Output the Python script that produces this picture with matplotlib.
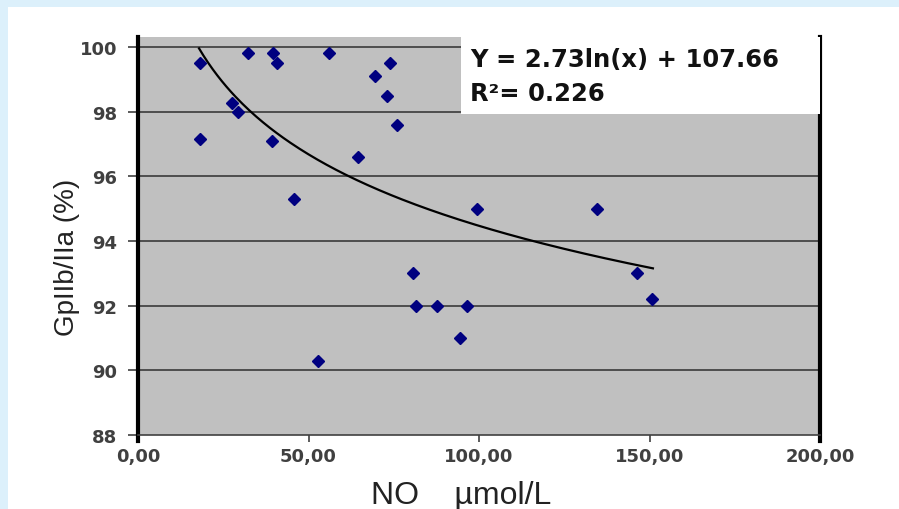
import numpy as np
import matplotlib.pyplot as plt
from matplotlib.patches import Rectangle

# NO (umol/L) vs GpIIb/IIa (%)
no_values = [18.2, 18.2, 27.6, 29.3, 32.3, 39.6, 40.8, 39.3, 45.7, 56.0,
             64.5, 69.5, 73.9, 73.0, 75.9, 52.8, 80.6, 81.5, 87.7, 96.5,
             94.4, 99.4, 134.5, 146.3, 150.7]
gp_values = [99.5, 97.15, 98.27, 98.0, 99.8, 99.8, 99.5, 97.1, 95.3, 99.8,
             96.6, 99.1, 99.5, 98.5, 97.6, 90.3, 93.0, 92.0, 92.0, 92.0,
             91.0, 95.0, 95.0, 93.0, 92.2]

# logarithmic trend line as drawn in the picture
trend_slope = -3.19
trend_intercept = 109.16
trend_x_range = [17.9, 151.0]

x_ticks = [0, 50, 100, 150, 200]
x_tick_labels = ["0,00", "50,00", "100,00", "150,00", "200,00"]
y_ticks = [88, 90, 92, 94, 96, 98, 100]
equation_text = "Y = 2.73ln(x) + 107.66"
r2_text = "R\u00b2= 0.226"

fig = plt.figure(figsize=(8.99, 5.10), dpi=100)
fig.patch.set_facecolor("#dcf0fb")
fig.patches.append(Rectangle((8 / 899, 0), 1, 1 - 8 / 510, transform=fig.transFigure,
                             facecolor="white", edgecolor="none", zorder=-10))

ax = fig.add_axes([138 / 899, 1 - 436 / 510, (820 - 138) / 899, (436 - 38) / 510])
ax.set_zorder(5)
ax.set_facecolor("#c0c0c0")
ax.set_xlim(0, 200)
ax.set_ylim(88, 100.31)

for yv in y_ticks[1:]:
    ax.axhline(yv, color="#3a3a3a", linewidth=1.2, zorder=1)

xs = np.linspace(trend_x_range[0], trend_x_range[1], 200)
ax.plot(xs, trend_slope * np.log(xs) + trend_intercept, color="black", linewidth=1.6, zorder=3)
ax.plot(no_values, gp_values, linestyle="none", marker="D", markersize=6,
        color="#000080", zorder=4)

# equation box
ax.add_patch(Rectangle((0.4736, 0.8065), 1 - 0.4736, 1 - 0.8065, transform=ax.transAxes,
                       facecolor="white", edgecolor="none", zorder=5))
ax.text(0.487, 0.975, equation_text, transform=ax.transAxes, ha="left", va="top",
        fontsize=17.5, fontweight="bold", family="DejaVu Sans", color="#111111", zorder=6)
ax.text(0.487, 0.89, r2_text, transform=ax.transAxes, ha="left", va="top",
        fontsize=17.5, fontweight="bold", family="DejaVu Sans", color="#111111", zorder=6)

for side in ["top"]:
    ax.spines[side].set_visible(False)
ax.spines["left"].set_linewidth(3)
ax.spines["right"].set_linewidth(3)
ax.spines["left"].set_color("black")
ax.spines["right"].set_color("black")
ax.spines["left"].set_bounds(87.8, 100.31)
ax.spines["right"].set_bounds(87.8, 100.31)
ax.spines["bottom"].set_color("#404040")
ax.spines["bottom"].set_linewidth(1.2)

ax.set_xticks(x_ticks)
ax.set_xticklabels(x_tick_labels)
ax.set_yticks(y_ticks)
ax.tick_params(axis="both", direction="out", color="#404040", width=1.2, labelcolor="#404040")
ax.tick_params(axis="y", length=7, pad=8)
ax.tick_params(axis="x", length=5, pad=4)
for lab in ax.get_xticklabels() + ax.get_yticklabels():
    lab.set_fontsize(13)
    lab.set_fontweight("bold")
    lab.set_family("DejaVu Sans")

ax.set_ylabel("GpIIb/IIa (%)", fontsize=20, family="Liberation Sans", color="#222222")
ax.yaxis.set_label_coords(-0.085, 0.45)
ax.set_xlabel("NO    \u00b5mol/L", fontsize=23, family="Liberation Sans", color="#222222")
ax.xaxis.set_label_coords(0.474, -0.112)

plt.savefig("out.png", dpi=100)
